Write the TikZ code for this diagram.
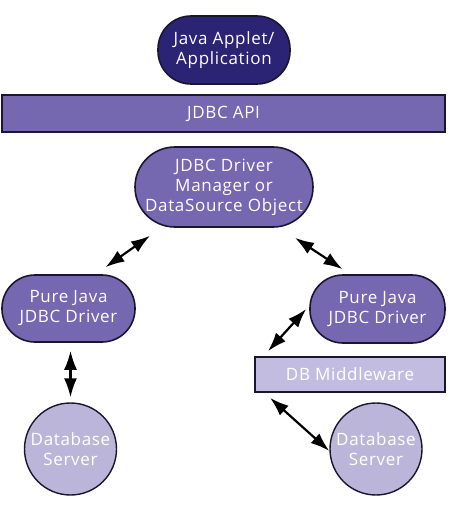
\documentclass[tikz,border=0pt]{standalone}
\usepackage{fontspec}
\setmainfont{Open Sans}[LetterSpace=4]
\usetikzlibrary{arrows.meta,calc}
\definecolor{navy}{HTML}{2B2373}
\definecolor{midp}{HTML}{7568B0}
\definecolor{lightp}{HTML}{C2BDE0}
\definecolor{dbp}{HTML}{BCB5DA}
\definecolor{edge}{HTML}{1A1630}
\begin{document}
\begin{tikzpicture}[x=1pt,y=-1pt,
  txt/.style={text=white,align=center,font=\fontsize{17}{20}\selectfont,inner sep=0pt},
  pill/.style={txt,draw=edge,line width=1.6pt,rounded corners=#1},
  barbox/.style={txt,draw=edge,line width=1.6pt},
  dbnode/.style={txt,circle,draw=edge,line width=1.4pt,fill=dbp,minimum size=92pt},
  arr/.style={line width=2.2pt,>={Latex[length=19pt,width=13pt]},<->}]
\useasboundingbox (0,0) rectangle (451,505);
\node[pill=33pt,fill=navy,minimum width=132pt,minimum height=68pt] (app) at (224,50) {Java Applet/\\Application};
\node[barbox,fill=midp,minimum width=443pt,minimum height=37pt] (api) at (223.5,113.5) {JDBC API};
\node[pill=40pt,fill=midp,minimum width=178pt,minimum height=80pt] (mgr) at (224,187) {JDBC Driver\\Manager or\\DataSource Object};
\node[pill=33pt,fill=midp,minimum width=133pt,minimum height=67pt] (ldrv) at (68.5,308.5) {Pure Java\\JDBC Driver};
\node[pill=33pt,fill=midp,minimum width=135pt,minimum height=68pt] (rdrv) at (377.5,309) {Pure Java\\JDBC Driver};
\node[barbox,fill=lightp,minimum width=190pt,minimum height=35pt] (mw) at (350,374.5) {DB Middleware};
\node[dbnode] (db1) at (70.5,449) {Database\\Server};
\node[dbnode] (db2) at (376,449) {Database\\Server};
\draw[arr] ([xshift=37pt,yshift=7pt]ldrv.north) -- ([xshift=-74pt,yshift=-8pt]mgr.south);
\draw[arr] ([xshift=71pt,yshift=-10pt]mgr.south) -- ([xshift=-35pt,yshift=5pt]rdrv.north);
\draw[arr] ([xshift=-3pt]rdrv.west) -- ([xshift=-82pt,yshift=5pt]mw.north);
\draw[arr] ([xshift=2pt,yshift=-8pt]ldrv.south) -- ([yshift=5pt]db1.north);
\draw[arr] ([xshift=-80pt,yshift=-5pt]mw.south) -- ([yshift=-2pt]db2.west);
\end{tikzpicture}
\end{document}
